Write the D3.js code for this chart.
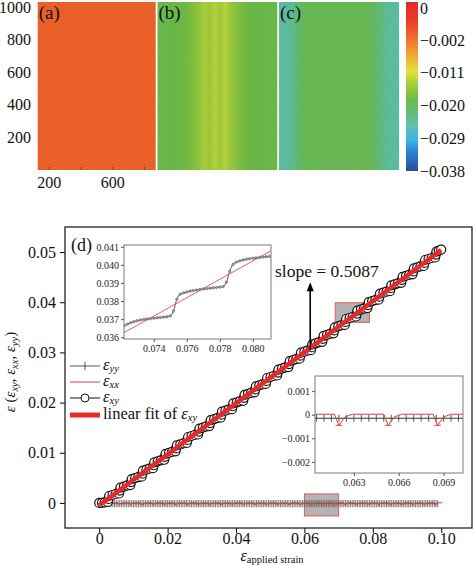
<!DOCTYPE html>
<html><head><meta charset="utf-8">
<script src="https://cdn.jsdelivr.net/npm/d3@7"></script>
<style>
html,body{margin:0;padding:0;background:#fff;}
svg{display:block;}
</style></head><body>
<svg id="c" width="474" height="565"></svg>
<script>
// ---------------- DATA ----------------
const panelLabels = ["(a)", "(b)", "(c)"];
const panelA = [-0.0004,-0.0004,-0.0004,-0.0004,-0.0004,-0.0004,-0.0004,-0.0004,-0.0004,-0.0004,-0.0004,-0.0004];
const panelB = [-0.0190,-0.0190,-0.0189,-0.0188,-0.0186,-0.0182,-0.0174,-0.0165,-0.0152,-0.0138,-0.0150,-0.0130,
                -0.0145,-0.0128,-0.0146,-0.0158,-0.0170,-0.0179,-0.0184,-0.0187,-0.0189,-0.0190,-0.0190,-0.0190];
const panelC = [-0.0250,-0.0248,-0.0238,-0.0222,-0.0205,-0.0198,-0.0195,-0.0195,-0.0195,-0.0195,-0.0195,-0.0195,
                -0.0195,-0.0195,-0.0195,-0.0195,-0.0196,-0.0198,-0.0202,-0.0210,-0.0225,-0.0240,-0.0248,-0.0250];
const mapYTicks = [200, 400, 600, 800, 1000];
const mapXTicks = [200, 600];
const colorbarTicks = [-0.038, -0.029, -0.020, -0.011, -0.002];
const colorbarTopLabel = "0";
const colorStopValues = [-0.038,-0.033,-0.0295,-0.026,-0.022,-0.0185,-0.014,-0.0105,-0.005,0.0,0.004,0.0085];
const colorStopColors = ["#2a4a9c","#2d7fd0","#38b6e6","#5cc0b4","#62bc7a","#6cbb45","#a8cf3c","#e6e03c","#f29a30","#ef5d2a","#ea3a28","#e52a2a"];

const mainXTicks = [0, 0.02, 0.04, 0.06, 0.08, 0.10];
const mainYTicks = [0, 0.01, 0.02, 0.03, 0.04, 0.05];

// eps_xy (staircase): slip point + 4 plateau points per step
const xyStrain = [0,0.0008,0.0016,0.0025,
0.0027,0.0029,0.0039,0.0048,0.0058, 0.0060,0.0062,0.0072,0.0081,0.0091, 0.0093,0.0095,0.0105,0.0114,0.0124,
0.0126,0.0128,0.0138,0.0147,0.0157, 0.0159,0.0161,0.0171,0.0180,0.0190, 0.0192,0.0194,0.0204,0.0213,0.0223,
0.0225,0.0227,0.0237,0.0246,0.0256, 0.0258,0.0260,0.0270,0.0279,0.0289, 0.0291,0.0293,0.0303,0.0312,0.0322,
0.0324,0.0326,0.0336,0.0345,0.0355, 0.0357,0.0359,0.0369,0.0378,0.0388, 0.0390,0.0392,0.0402,0.0411,0.0421,
0.0423,0.0425,0.0435,0.0444,0.0454, 0.0456,0.0458,0.0468,0.0477,0.0487, 0.0489,0.0491,0.0501,0.0510,0.0520,
0.0522,0.0524,0.0534,0.0543,0.0553, 0.0555,0.0557,0.0567,0.0576,0.0586, 0.0588,0.0590,0.0600,0.0609,0.0619,
0.0621,0.0623,0.0633,0.0642,0.0652, 0.0654,0.0656,0.0666,0.0675,0.0685, 0.0687,0.0689,0.0699,0.0708,0.0718,
0.0720,0.0722,0.0732,0.0741,0.0751, 0.0753,0.0755,0.0765,0.0774,0.0784, 0.0786,0.0788,0.0798,0.0807,0.0817,
0.0819,0.0821,0.0831,0.0840,0.0850, 0.0852,0.0854,0.0864,0.0873,0.0883, 0.0885,0.0887,0.0897,0.0906,0.0916,
0.0918,0.0920,0.0930,0.0939,0.0949, 0.0951,0.0953,0.0963,0.0972,0.0982, 0.0984,0.0986,0.0993,0.1000];
const xyValue = [0,0,0.0001,0.0002,
0.00079,0.00138,0.00158,0.00178,0.00188, 0.00247,0.00306,0.00326,0.00346,0.00356, 0.00415,0.00474,0.00494,0.00514,0.00524,
0.00583,0.00642,0.00662,0.00682,0.00692, 0.00751,0.00810,0.00830,0.00850,0.00860, 0.00919,0.00978,0.00998,0.01018,0.01028,
0.01087,0.01146,0.01166,0.01186,0.01196, 0.01255,0.01314,0.01334,0.01354,0.01364, 0.01423,0.01482,0.01502,0.01522,0.01532,
0.01591,0.01650,0.01670,0.01690,0.01700, 0.01759,0.01818,0.01838,0.01858,0.01868, 0.01927,0.01986,0.02006,0.02026,0.02036,
0.02095,0.02154,0.02174,0.02194,0.02204, 0.02263,0.02322,0.02342,0.02362,0.02372, 0.02431,0.02490,0.02510,0.02530,0.02540,
0.02599,0.02658,0.02678,0.02698,0.02708, 0.02767,0.02826,0.02846,0.02866,0.02876, 0.02935,0.02994,0.03014,0.03034,0.03044,
0.03103,0.03162,0.03182,0.03202,0.03212, 0.03271,0.03330,0.03350,0.03370,0.03380, 0.03439,0.03498,0.03518,0.03538,0.03548,
0.03607,0.03666,0.03686,0.03706,0.03716, 0.03775,0.03834,0.03854,0.03874,0.03884, 0.03943,0.04002,0.04022,0.04042,0.04052,
0.04111,0.04170,0.04190,0.04210,0.04220, 0.04279,0.04338,0.04358,0.04378,0.04388, 0.04447,0.04506,0.04526,0.04546,0.04556,
0.04615,0.04674,0.04694,0.04714,0.04724, 0.04783,0.04842,0.04862,0.04882,0.04892, 0.04951,0.05010,0.05030,0.05050];

// eps_xx (near zero with dips at each slip)
const xxStrain = [0,
0.0023,0.0026,0.0030,0.0035, 0.0056,0.0059,0.0063,0.0068, 0.0089,0.0092,0.0096,0.0101,
0.0122,0.0125,0.0129,0.0134, 0.0155,0.0158,0.0162,0.0167, 0.0188,0.0191,0.0195,0.0200,
0.0221,0.0224,0.0228,0.0233, 0.0254,0.0257,0.0261,0.0266, 0.0287,0.0290,0.0294,0.0299,
0.0320,0.0323,0.0327,0.0332, 0.0353,0.0356,0.0360,0.0365, 0.0386,0.0389,0.0393,0.0398,
0.0419,0.0422,0.0426,0.0431, 0.0452,0.0455,0.0459,0.0464, 0.0485,0.0488,0.0492,0.0497,
0.0518,0.0521,0.0525,0.0530, 0.0551,0.0554,0.0558,0.0563, 0.0584,0.0587,0.0591,0.0596,
0.0617,0.0620,0.0624,0.0629, 0.0650,0.0653,0.0657,0.0662, 0.0683,0.0686,0.0690,0.0695,
0.0716,0.0719,0.0723,0.0728, 0.0749,0.0752,0.0756,0.0761, 0.0782,0.0785,0.0789,0.0794,
0.0815,0.0818,0.0822,0.0827, 0.0848,0.0851,0.0855,0.0860, 0.0881,0.0884,0.0888,0.0893,
0.0914,0.0917,0.0921,0.0926, 0.0947,0.0950,0.0954,0.0959, 0.0980,0.0983,0.0987,0.0992,
0.1003];
const xxValue = [0,
0.00002,-0.00045,-0.0001,0.00002, 0.00002,-0.00045,-0.0001,0.00002, 0.00002,-0.00045,-0.0001,0.00002,
0.00002,-0.00045,-0.0001,0.00002, 0.00002,-0.00045,-0.0001,0.00002, 0.00002,-0.00045,-0.0001,0.00002,
0.00002,-0.00045,-0.0001,0.00002, 0.00002,-0.00045,-0.0001,0.00002, 0.00002,-0.00045,-0.0001,0.00002,
0.00002,-0.00045,-0.0001,0.00002, 0.00002,-0.00045,-0.0001,0.00002, 0.00002,-0.00045,-0.0001,0.00002,
0.00002,-0.00045,-0.0001,0.00002, 0.00002,-0.00045,-0.0001,0.00002, 0.00002,-0.00045,-0.0001,0.00002,
0.00002,-0.00045,-0.0001,0.00002, 0.00002,-0.00045,-0.0001,0.00002, 0.00002,-0.00045,-0.0001,0.00002,
0.00002,-0.00045,-0.0001,0.00002, 0.00002,-0.00045,-0.0001,0.00002, 0.00002,-0.00045,-0.0001,0.00002,
0.00002,-0.00045,-0.0001,0.00002, 0.00002,-0.00045,-0.0001,0.00002, 0.00002,-0.00045,-0.0001,0.00002,
0.00002,-0.00045,-0.0001,0.00002, 0.00002,-0.00045,-0.0001,0.00002, 0.00002,-0.00045,-0.0001,0.00002,
0.00002,-0.00045,-0.0001,0.00002, 0.00002,-0.00045,-0.0001,0.00002, 0.00002,-0.00045,-0.0001,0.00002,
0.00002];

// eps_yy (flat, slightly below zero)
const yyStrain = [
0.003,0.0035,0.004,0.0045,0.005,0.0055,0.006,0.0065,0.007,0.0075,
0.008,0.0085,0.009,0.0095,0.01,0.0105,0.011,0.0115,0.012,0.0125,
0.013,0.0135,0.014,0.0145,0.015,0.0155,0.016,0.0165,0.017,0.0175,
0.018,0.0185,0.019,0.0195,0.02,0.0205,0.021,0.0215,0.022,0.0225,
0.023,0.0235,0.024,0.0245,0.025,0.0255,0.026,0.0265,0.027,0.0275,
0.028,0.0285,0.029,0.0295,0.03,0.0305,0.031,0.0315,0.032,0.0325,
0.033,0.0335,0.034,0.0345,0.035,0.0355,0.036,0.0365,0.037,0.0375,
0.038,0.0385,0.039,0.0395,0.04,0.0405,0.041,0.0415,0.042,0.0425,
0.043,0.0435,0.044,0.0445,0.045,0.0455,0.046,0.0465,0.047,0.0475,
0.048,0.0485,0.049,0.0495,0.05,0.0505,0.051,0.0515,0.052,0.0525,
0.053,0.0535,0.054,0.0545,0.055,0.0555,0.056,0.0565,0.057,0.0575,
0.058,0.0585,0.059,0.0595,0.06,0.0605,0.061,0.0615,0.062,0.0625,
0.063,0.0635,0.064,0.0645,0.065,0.0655,0.066,0.0665,0.067,0.0675,
0.068,0.0685,0.069,0.0695,0.07,0.0705,0.071,0.0715,0.072,0.0725,
0.073,0.0735,0.074,0.0745,0.075,0.0755,0.076,0.0765,0.077,0.0775,
0.078,0.0785,0.079,0.0795,0.08,0.0805,0.081,0.0815,0.082,0.0825,
0.083,0.0835,0.084,0.0845,0.085,0.0855,0.086,0.0865,0.087,0.0875,
0.088,0.0885,0.089,0.0895,0.09,0.0905,0.091,0.0915,0.092,0.0925,
0.093,0.0935,0.094,0.0945,0.095,0.0955,0.096,0.0965,0.097,0.0975,
0.098,0.0985,0.099];
const yyValue = [
-0.00015,-0.00015,-0.00015,-0.00015,-0.00015,-0.00015,-0.00015,-0.00015,-0.00015,-0.00015,
-0.00015,-0.00015,-0.00015,-0.00015,-0.00015,-0.00015,-0.00015,-0.00015,-0.00015,-0.00015,
-0.00015,-0.00015,-0.00015,-0.00015,-0.00015,-0.00015,-0.00015,-0.00015,-0.00015,-0.00015,
-0.00015,-0.00015,-0.00015,-0.00015,-0.00015,-0.00015,-0.00015,-0.00015,-0.00015,-0.00015,
-0.00015,-0.00015,-0.00015,-0.00015,-0.00015,-0.00015,-0.00015,-0.00015,-0.00015,-0.00015,
-0.00015,-0.00015,-0.00015,-0.00015,-0.00015,-0.00015,-0.00015,-0.00015,-0.00015,-0.00015,
-0.00015,-0.00015,-0.00015,-0.00015,-0.00015,-0.00015,-0.00015,-0.00015,-0.00015,-0.00015,
-0.00015,-0.00015,-0.00015,-0.00015,-0.00015,-0.00015,-0.00015,-0.00015,-0.00015,-0.00015,
-0.00015,-0.00015,-0.00015,-0.00015,-0.00015,-0.00015,-0.00015,-0.00015,-0.00015,-0.00015,
-0.00015,-0.00015,-0.00015,-0.00015,-0.00015,-0.00015,-0.00015,-0.00015,-0.00015,-0.00015,
-0.00015,-0.00015,-0.00015,-0.00015,-0.00015,-0.00015,-0.00015,-0.00015,-0.00015,-0.00015,
-0.00015,-0.00015,-0.00015,-0.00015,-0.00015,-0.00015,-0.00015,-0.00015,-0.00015,-0.00015,
-0.00015,-0.00015,-0.00015,-0.00015,-0.00015,-0.00015,-0.00015,-0.00015,-0.00015,-0.00015,
-0.00015,-0.00015,-0.00015,-0.00015,-0.00015,-0.00015,-0.00015,-0.00015,-0.00015,-0.00015,
-0.00015,-0.00015,-0.00015,-0.00015,-0.00015,-0.00015,-0.00015,-0.00015,-0.00015,-0.00015,
-0.00015,-0.00015,-0.00015,-0.00015,-0.00015,-0.00015,-0.00015,-0.00015,-0.00015,-0.00015,
-0.00015,-0.00015,-0.00015,-0.00015,-0.00015,-0.00015,-0.00015,-0.00015,-0.00015,-0.00015,
-0.00015,-0.00015,-0.00015,-0.00015,-0.00015,-0.00015,-0.00015,-0.00015,-0.00015,-0.00015,
-0.00015,-0.00015,-0.00015,-0.00015,-0.00015,-0.00015,-0.00015,-0.00015,-0.00015,-0.00015,
-0.00015,-0.00015,-0.00015];

const fitStrain = [0, 0.1];
const fitValue = [-0.0005, 0.0504];
const slopeText = "slope = 0.5087";

const inset1Domain = [0.0722, 0.0811];
const inset1Range = [0.0359, 0.0411];
const inset1XTicks = [0.074, 0.076, 0.078, 0.080];
const inset1YTicks = [0.036, 0.037, 0.038, 0.039, 0.040, 0.041];
const inset1Strain = [0.0722,0.0724,0.0726,0.0728,0.0730,0.0732,0.0734,0.0736,0.0738,0.0740,
0.0742,0.0744,0.0746,0.0748,0.0750,0.0752,0.0754,0.0756,0.0758,0.0760,
0.0762,0.0764,0.0766,0.0768,0.0770,0.0772,0.0774,0.0776,0.0778,0.0780,
0.0782,0.0784,0.0786,0.0788,0.0790,0.0792,0.0794,0.0796,0.0798,0.0800,
0.0802,0.0804,0.0806,0.0808,0.0810];
const inset1Value = [0.03662,0.03672,0.03680,0.03686,0.03691,0.03695,0.03698,0.03701,0.03703,0.03705,
0.03707,0.03709,0.03711,0.03713,0.03718,0.03745,0.03810,0.03838,0.03845,0.03850,
0.03855,0.03858,0.03861,0.03864,0.03867,0.03869,0.03871,0.03873,0.03875,0.03877,
0.03880,0.03905,0.03965,0.04003,0.04015,0.04022,0.04027,0.04031,0.04034,0.04037,
0.04039,0.04041,0.04043,0.04045,0.04047];

const inset2Domain = [0.0604, 0.0703];
const inset2Range = [-0.00247, 0.00164];
const inset2XTicks = [0.063, 0.066, 0.069];
const inset2YTicks = [-0.002, -0.001, 0, 0.001];

const box1 = [0.069, 0.079, 0.0360, 0.0399];
const box2 = [0.0600, 0.0700, -0.0026, 0.0018];
const arrowSpec = [0.0617, 0.0305, 0.0440];

// ---------------- DRAW ----------------
const svg = d3.select("#c");
const defs = svg.append("defs");
const color = d3.scaleLinear().domain(colorStopValues).range(colorStopColors).clamp(true);

// ---- top maps ----
const mapY = d3.scaleLinear().domain([0, 1032]).range([170, 2]);
const mapX = d3.scaleLinear().domain([127, 871]).range([37.7, 155.7]);
const panelExtents = [[37.7, 155.7], [157.5, 277.3], [279, 399]];
const panelData = [panelA, panelB, panelC];

const pat = defs.append("pattern").attr("id", "lat").attr("patternUnits", "userSpaceOnUse")
  .attr("width", 4).attr("height", 3.4);
pat.append("circle").attr("cx", 1).attr("cy", 0.85).attr("r", 0.75).attr("fill", "#000").attr("opacity", 0.08);
pat.append("circle").attr("cx", 3).attr("cy", 2.55).attr("r", 0.75).attr("fill", "#000").attr("opacity", 0.08);

panelData.forEach((vals, k) => {
  const [x0, x1] = panelExtents[k];
  const gid = "pg" + k;
  const grad = defs.append("linearGradient").attr("id", gid).attr("x1", 0).attr("x2", 1).attr("y1", 0).attr("y2", 0);
  vals.forEach((v, i) => {
    grad.append("stop").attr("offset", (i + 0.5) / vals.length).attr("stop-color", color(v));
  });
  svg.append("rect").attr("x", x0).attr("y", mapY(1032)).attr("width", x1 - x0)
    .attr("height", mapY(0) - mapY(1032)).attr("fill", `url(#${gid})`);
  svg.append("rect").attr("x", x0).attr("y", mapY(1032)).attr("width", x1 - x0)
    .attr("height", mapY(0) - mapY(1032)).attr("fill", "url(#lat)");
  svg.append("text").attr("x", x0 + 1).attr("y", 19).attr("font-size", 19).attr("fill", "#111")
    .text(panelLabels[k]);
});

svg.append("g").selectAll("text").data(mapYTicks).join("text")
  .attr("x", 31).attr("y", d => mapY(d)).attr("dy", "0.35em").attr("text-anchor", "end")
  .attr("font-size", 16).attr("fill", "#111").text(d => d);
svg.append("g").selectAll("text").data(mapXTicks).join("text")
  .attr("x", d => mapX(d)).attr("y", 188).attr("text-anchor", "middle")
  .attr("font-size", 16).attr("fill", "#111").text(d => d);
svg.append("g").selectAll("line").data([200, 400, 600, 800]).join("line")
  .attr("x1", d => mapX(d)).attr("x2", d => mapX(d)).attr("y1", 170).attr("y2", 167)
  .attr("stroke", "#444").attr("stroke-width", 0.8);

// colorbar
const cb = d3.scaleLinear().domain([-0.038, 0.0085]).range([171, 2]);
const cbg = defs.append("linearGradient").attr("id", "cbg").attr("x1", 0).attr("x2", 0).attr("y1", 0).attr("y2", 1);
colorStopValues.slice().reverse().forEach(v => {
  cbg.append("stop").attr("offset", (cb(v) - 2) / 169).attr("stop-color", color(v));
});
svg.append("rect").attr("x", 406).attr("y", 2).attr("width", 12).attr("height", 169).attr("fill", "url(#cbg)");
svg.append("g").selectAll("text").data(colorbarTicks).join("text")
  .attr("x", 420).attr("y", d => cb(d)).attr("dy", "0.35em").attr("font-size", 16).attr("fill", "#111")
  .text(d => d3.format(".3f")(d));
svg.append("text").attr("x", 420).attr("y", 14).attr("font-size", 16).attr("fill", "#111").text(colorbarTopLabel);

// ---- main plot ----
const X = d3.scaleLinear().domain([-0.01, 0.109]).range([65, 472]);
const Y = d3.scaleLinear().domain([-0.005, 0.055]).range([528, 227]);
defs.append("clipPath").attr("id", "clipMain").append("rect").attr("x", 65).attr("y", 227).attr("width", 407).attr("height", 301);

const xAx = svg.append("g").attr("transform", "translate(0,528)")
  .call(d3.axisBottom(X).tickValues(mainXTicks).tickSize(5).tickPadding(0)
    .tickFormat(d => d === 0 ? "0" : d3.format(".2f")(d)));
xAx.attr("font-size", 16);
xAx.select(".domain").remove();
const yAx = svg.append("g").attr("transform", "translate(65,0)")
  .call(d3.axisLeft(Y).tickValues(mainYTicks).tickSize(5).tickPadding(4)
    .tickFormat(d => d === 0 ? "0" : d3.format(".2f")(d)));
yAx.attr("font-size", 16);
yAx.select(".domain").remove();
svg.selectAll(".tick text").attr("fill", "#111");

const plot = svg.append("g").attr("clip-path", "url(#clipMain)");

[box1, box2].forEach(b => {
  plot.append("rect").attr("x", X(b[0])).attr("y", Y(b[3])).attr("width", X(b[1]) - X(b[0]))
    .attr("height", Y(b[2]) - Y(b[3])).attr("fill", "#b3b3b3").attr("stroke", "#e05a5a").attr("stroke-width", 1);
});

const yyPts = yyStrain.map((s, i) => [s, yyValue[i]]);
const xxPts = xxStrain.map((s, i) => [s, xxValue[i]]);
const xyPts = xyStrain.map((s, i) => [s, xyValue[i]]);
const fitPts = fitStrain.map((s, i) => [s, fitValue[i]]);

const lineMain = d3.line().x(d => X(d[0])).y(d => Y(d[1]));
plot.append("path").attr("d", lineMain(yyPts)).attr("fill", "none").attr("stroke", "#555").attr("stroke-width", 1);
plot.append("g").selectAll("line").data(yyPts).join("line")
  .attr("x1", d => X(d[0])).attr("x2", d => X(d[0])).attr("y1", d => Y(d[1]) - 3.6).attr("y2", d => Y(d[1]) + 3.6)
  .attr("stroke", "#6a6a6a").attr("stroke-width", 0.9);
plot.append("path").attr("d", lineMain(xxPts)).attr("fill", "none").attr("stroke", "#e8383a").attr("stroke-width", 1);
plot.append("path").attr("d", lineMain(xyPts)).attr("fill", "none").attr("stroke", "#111").attr("stroke-width", 1);
plot.append("g").selectAll("circle").data(xyPts).join("circle")
  .attr("cx", d => X(d[0])).attr("cy", d => Y(d[1])).attr("r", 4.5)
  .attr("fill", "#fff").attr("stroke", "#111").attr("stroke-width", 1.2);
plot.append("path").attr("d", lineMain(fitPts)).attr("fill", "none").attr("stroke", "#e42a2a").attr("stroke-width", 4.5);

svg.append("rect").attr("x", 65).attr("y", 227).attr("width", 407).attr("height", 301)
  .attr("fill", "none").attr("stroke", "#222").attr("stroke-width", 1.3);

{
  const ax = X(arrowSpec[0]), ay0 = Y(arrowSpec[1]), ay1 = Y(arrowSpec[2]);
  svg.append("line").attr("x1", ax).attr("x2", ax).attr("y1", ay0).attr("y2", ay1 + 8)
    .attr("stroke", "#000").attr("stroke-width", 1.6);
  svg.append("path").attr("d", `M${ax - 3.5},${ay1 + 9} L${ax},${ay1} L${ax + 3.5},${ay1 + 9} Z`).attr("fill", "#000");
  svg.append("text").attr("x", 275).attr("y", 277).attr("font-size", 17.5).attr("fill", "#111").text(slopeText);
}

svg.append("text").attr("x", 71).attr("y", 251).attr("font-size", 18).attr("fill", "#111").text("(d)");

// ---- inset 1 ----
{
  const x0 = 124, x1 = 271, y0 = 245, y1 = 339;
  const xi = d3.scaleLinear().domain(inset1Domain).range([x0, x1]);
  const yi = d3.scaleLinear().domain(inset1Range).range([y1, y0]);
  defs.append("clipPath").attr("id", "clip1").append("rect").attr("x", x0).attr("y", y0).attr("width", x1 - x0).attr("height", y1 - y0);
  svg.append("rect").attr("x", x0).attr("y", y0).attr("width", x1 - x0).attr("height", y1 - y0).attr("fill", "#fff");
  const g = svg.append("g").attr("clip-path", "url(#clip1)");
  const pts = inset1Strain.map((s, i) => [s, inset1Value[i]]);
  g.append("path").attr("d", d3.line().curve(d3.curveMonotoneX).x(d => xi(d[0])).y(d => yi(d[1]))(pts))
    .attr("fill", "none").attr("stroke", "#555").attr("stroke-width", 1);
  g.append("path").attr("d", d3.line().x(d => xi(d[0])).y(d => yi(d[1]))(fitPts)).attr("fill", "none").attr("stroke", "#e84a4a").attr("stroke-width", 0.9);
  g.append("g").selectAll("circle").data(pts).join("circle").attr("cx", d => xi(d[0])).attr("cy", d => yi(d[1]))
    .attr("r", 1.2).attr("fill", "#aaa").attr("stroke", "#555").attr("stroke-width", 0.6);
  svg.append("rect").attr("x", x0).attr("y", y0).attr("width", x1 - x0).attr("height", y1 - y0)
    .attr("fill", "none").attr("stroke", "#7a7a7a").attr("stroke-width", 1);
  const ax1 = svg.append("g").attr("transform", `translate(0,${y1})`)
    .call(d3.axisBottom(xi).tickValues(inset1XTicks).tickSize(3).tickPadding(3).tickFormat(d3.format(".3f")));
  ax1.attr("font-size", 10); ax1.select(".domain").remove();
  const ay1 = svg.append("g").attr("transform", `translate(${x0},0)`)
    .call(d3.axisLeft(yi).tickValues(inset1YTicks).tickSize(3).tickPadding(2).tickFormat(d3.format(".3f")));
  ay1.attr("font-size", 10); ay1.select(".domain").remove();
  [ax1, ay1].forEach(a => { a.selectAll("line").attr("stroke", "#555"); a.selectAll("text").attr("fill", "#222"); });
}

// ---- inset 2 ----
{
  const x0 = 315, x1 = 463, y0 = 376, y1 = 473;
  const xi = d3.scaleLinear().domain(inset2Domain).range([x0, x1]);
  const yi = d3.scaleLinear().domain(inset2Range).range([y1, y0]);
  defs.append("clipPath").attr("id", "clip2").append("rect").attr("x", x0).attr("y", y0).attr("width", x1 - x0).attr("height", y1 - y0);
  svg.append("rect").attr("x", x0).attr("y", y0).attr("width", x1 - x0).attr("height", y1 - y0).attr("fill", "#fff");
  const g = svg.append("g").attr("clip-path", "url(#clip2)");
  const ln = d3.line().x(d => xi(d[0])).y(d => yi(d[1]));
  g.append("path").attr("d", ln(yyPts)).attr("fill", "none").attr("stroke", "#333").attr("stroke-width", 1);
  g.append("g").selectAll("line").data(yyPts).join("line")
    .attr("x1", d => xi(d[0])).attr("x2", d => xi(d[0])).attr("y1", d => yi(d[1]) - 3.5).attr("y2", d => yi(d[1]) + 3.5)
    .attr("stroke", "#333").attr("stroke-width", 0.8);
  g.append("path").attr("d", ln(xxPts)).attr("fill", "none").attr("stroke", "#e8383a").attr("stroke-width", 1);
  g.append("g").selectAll("line").data(xxPts.filter(d => d[1] < -0.0003)).join("line")
    .attr("x1", d => xi(d[0] - 0.00022)).attr("x2", d => xi(d[0] + 0.00022)).attr("y1", d => yi(d[1])).attr("y2", d => yi(d[1]))
    .attr("stroke", "#e8383a").attr("stroke-width", 1);
  svg.append("rect").attr("x", x0).attr("y", y0).attr("width", x1 - x0).attr("height", y1 - y0)
    .attr("fill", "none").attr("stroke", "#7a7a7a").attr("stroke-width", 1);
  const ax2 = svg.append("g").attr("transform", `translate(0,${y1})`)
    .call(d3.axisBottom(xi).tickValues(inset2XTicks).tickSize(3).tickPadding(3).tickFormat(d3.format(".3f")));
  ax2.attr("font-size", 10); ax2.select(".domain").remove();
  const ay2 = svg.append("g").attr("transform", `translate(${x0},0)`)
    .call(d3.axisLeft(yi).tickValues(inset2YTicks).tickSize(3).tickPadding(2)
      .tickFormat(d => d === 0 ? "0" : d3.format(".3f")(d)));
  ay2.attr("font-size", 10); ay2.select(".domain").remove();
  [ax2, ay2].forEach(a => { a.selectAll("line").attr("stroke", "#555"); a.selectAll("text").attr("fill", "#222"); });
}

// ---- legend ----
{
  const lx0 = 70, lx1 = 100, tx = 103;
  const rows = [366, 382, 398, 415];
  svg.append("line").attr("x1", lx0).attr("x2", lx1).attr("y1", rows[0]).attr("y2", rows[0]).attr("stroke", "#555").attr("stroke-width", 1);
  svg.append("line").attr("x1", 85).attr("x2", 85).attr("y1", rows[0] - 4).attr("y2", rows[0] + 4).attr("stroke", "#555").attr("stroke-width", 1);
  svg.append("line").attr("x1", lx0).attr("x2", lx1).attr("y1", rows[1]).attr("y2", rows[1]).attr("stroke", "#e8383a").attr("stroke-width", 1);
  svg.append("line").attr("x1", lx0).attr("x2", lx1).attr("y1", rows[2]).attr("y2", rows[2]).attr("stroke", "#111").attr("stroke-width", 1);
  svg.append("circle").attr("cx", 85).attr("cy", rows[2]).attr("r", 4).attr("fill", "#fff").attr("stroke", "#111");
  svg.append("line").attr("x1", lx0).attr("x2", lx1).attr("y1", rows[3]).attr("y2", rows[3]).attr("stroke", "#e42a2a").attr("stroke-width", 5);

  const eps = (y, sub, prefix) => {
    const txt = svg.append("text").attr("x", tx).attr("y", y + 4).attr("font-size", 16.5).attr("fill", "#111");
    if (prefix) txt.append("tspan").text(prefix);
    txt.append("tspan").attr("font-style", "italic").text("ε");
    txt.append("tspan").attr("font-style", "italic").attr("font-size", 10.5).attr("dy", 2).text(sub);
  };
  eps(rows[0], "yy");
  eps(rows[1], "xx");
  eps(rows[2], "xy");
  eps(rows[3], "xy", "linear fit of ");
}

// axis titles
{
  const t = svg.append("text").attr("x", 272).attr("y", 561).attr("text-anchor", "middle").attr("fill", "#111");
  t.append("tspan").attr("font-style", "italic").attr("font-size", 16).text("ε");
  t.append("tspan").attr("font-size", 10.5).attr("dy", 1.5).text("applied strain");

  const yl = svg.append("text").attr("transform", "translate(15,372) rotate(-90)").attr("text-anchor", "middle")
    .attr("font-size", 15).attr("fill", "#111");
  yl.append("tspan").attr("font-style", "italic").text("ε");
  yl.append("tspan").text(" (");
  const parts = [["xy", ", "], ["xx", ", "], ["yy", ")"]];
  parts.forEach(([s, after]) => {
    yl.append("tspan").attr("font-style", "italic").text("ε");
    yl.append("tspan").attr("font-style", "italic").attr("font-size", 10.5).attr("dy", 3).text(s);
    yl.append("tspan").attr("dy", -3).text(after);
  });
}

// serif typeface for every text (TeX-like look of the reference)
svg.selectAll("text").style("font-family", '"Liberation Serif", serif');
svg.selectAll("g").filter(function () { return this.hasAttribute("font-family"); }).attr("font-family", null);
</script>
</body></html>
